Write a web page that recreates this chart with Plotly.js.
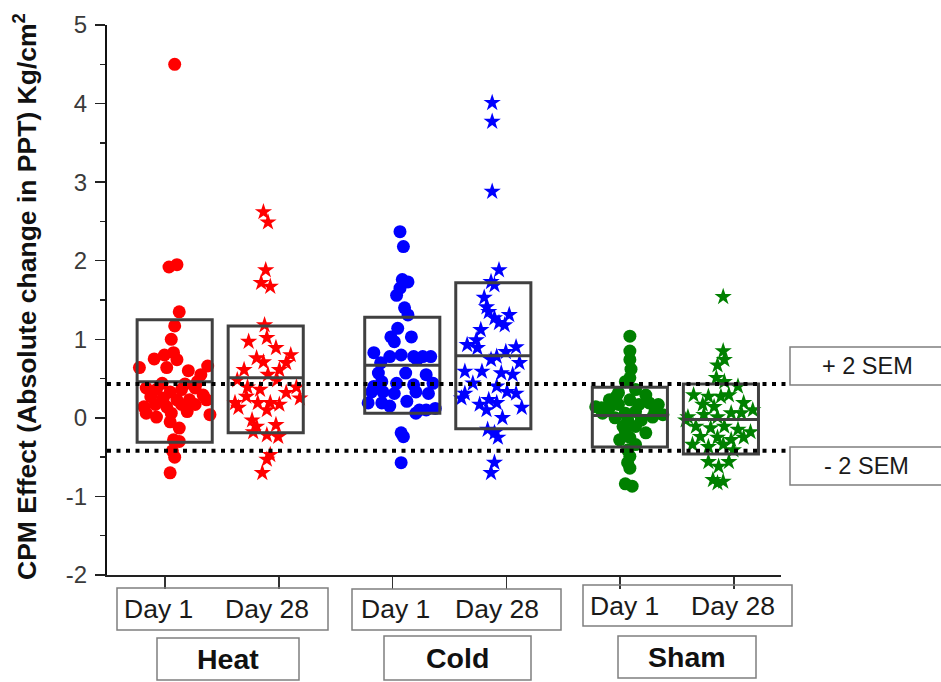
<!DOCTYPE html>
<html><head><meta charset="utf-8">
<script src="https://cdn.plot.ly/plotly-3.0.1.min.js"></script>
<style>html,body{margin:0;padding:0;background:#fff}#chart{width:941px;height:682px}</style>
</head><body><div id="chart"></div>
<script>
// ---------------- DATA ----------------
const groups = ['Heat', 'Cold', 'Sham'];
const days = ['Day 1', 'Day 28'];
const groupColors = ['#ff0000', '#0000ff', '#008000'];
const daySymbols = ['circle', 'star'];

// y-axis ticks
const yTickVals = [-2, -1, 0, 1, 2, 3, 4, 5];
const yTickText = ['-2', '-1', '0', '1', '2', '3', '4', '5'];

// box values (top, middle line, bottom) per column: Heat D1, Heat D28, Cold D1, Cold D28, Sham D1, Sham D28
const boxTop    = [1.25, 1.17, 1.28, 1.72, 0.39, 0.43];
const boxMid    = [0.46, 0.51, 0.67, 0.79, 0.03, -0.02];
const boxBottom = [-0.31, -0.19, 0.06, -0.14, -0.37, -0.46];

const semUpper = 0.43;
const semLower = -0.42;

// individual CPM effects (y) with horizontal jitter (category units)
const heatDay1Y = [4.50,1.92,1.95,1.35,1.17,1.00,0.80,0.83,0.75,0.74,0.64,0.64,0.60,0.66,0.55,0.38,0.36,0.33,0.36,0.38,0.29,0.27,0.25,0.23,0.23,0.14,0.17,0.14,0.17,0.17,0.23,0.06,0.01,0.06,0.04,0.08,-0.05,-0.13,-0.28,-0.30,-0.42,-0.50,-0.70,0.44,0.43,0.46];
const heatDay1J = [0,-0.05,0.02,0.04,0,-0.03,-0.09,-0.01,-0.18,0.02,-0.07,-0.31,0.12,0.29,0.23,-0.25,-0.16,-0.04,0.06,0.18,0.25,-0.21,-0.10,0.02,0.13,-0.27,-0.17,-0.07,0.06,0.18,0.28,-0.25,-0.16,-0.03,0.31,0.11,-0.04,0.04,-0.01,0.04,-0.02,0,-0.04,-0.11,0.09,0.20];

const heatDay28Y = [2.62,2.49,1.88,1.72,1.67,1.18,0.97,1.02,0.89,0.80,0.76,0.71,0.70,0.61,0.61,0.55,0.48,0.48,0.39,0.39,0.36,0.32,0.27,0.25,0.19,0.19,0.19,0.17,0.13,0.10,-0.03,-0.09,-0.11,-0.18,-0.22,-0.24,-0.47,-0.53,-0.70];
const heatDay28J = [-0.02,0.02,0,-0.04,0.04,-0.01,-0.15,0.01,0.09,0.22,-0.08,-0.02,0.18,-0.19,0.12,0.02,-0.25,0.10,0.27,-0.16,-0.05,0.18,-0.17,0.30,-0.27,-0.07,0.04,0.12,-0.24,0.01,-0.12,0.09,-0.08,-0.11,0.01,0.11,0.04,0.01,-0.03];

const coldDay1Y = [2.37,2.18,1.76,1.73,1.65,1.56,1.40,1.31,1.14,1.03,1.03,0.97,0.83,0.78,0.80,0.78,0.78,0.78,0.70,0.74,0.57,0.57,0.55,0.46,0.44,0.40,0.42,0.44,0.33,0.31,0.33,0.31,0.19,0.19,0.15,0.21,0.10,0.12,0.10,-0.19,-0.24,-0.57,0.06,0.33];
const coldDay1J = [-0.02,0.01,0,0.05,-0.02,-0.05,0.02,0.05,-0.04,-0.10,0.08,-0.07,-0.25,-0.11,-0.01,0.10,0.18,0.25,-0.19,0.13,-0.21,0.03,0.21,-0.18,-0.05,-0.25,0.10,0.27,-0.17,-0.07,0.12,0.23,-0.30,-0.18,-0.11,0.04,0.15,0.29,0.21,-0.01,0.01,-0.01,0.12,-0.27];

const coldDay28Y = [4.01,3.77,2.88,1.88,1.73,1.69,1.53,1.41,1.35,1.31,1.27,1.21,1.18,1.12,0.99,0.93,0.89,0.90,0.84,0.78,0.70,0.74,0.59,0.59,0.57,0.55,0.44,0.40,0.31,0.33,0.31,0.25,0.23,0.17,0.19,0.13,0.10,0.00,-0.15,-0.19,-0.25,-0.57,-0.70];
const coldDay28J = [-0.01,-0.01,-0.01,0.05,-0.02,0.01,-0.08,-0.06,-0.04,0.14,0.01,0.05,0.10,-0.11,-0.15,-0.23,-0.14,0.20,0.11,0.03,0.23,-0.02,-0.25,-0.10,0.07,0.17,-0.18,0.03,-0.25,0.12,0.20,-0.28,-0.04,-0.12,0.03,0.25,-0.06,0.08,-0.05,0.01,0.04,0.01,-0.02];

const shamDay1Y = [1.04,0.85,0.74,0.62,0.51,0.46,0.36,0.32,0.29,0.23,0.23,0.14,0.13,0.17,0.17,0.19,0.17,0.06,0.06,0.08,0.04,0.00,-0.03,-0.03,0.01,-0.11,-0.11,-0.17,-0.19,-0.25,-0.28,-0.34,-0.41,-0.49,-0.57,-0.64,-0.84,-0.87,0.13,0.08,0.27];
const shamDay1J = [0,0,0,0.01,0,-0.04,0.05,-0.10,0.14,-0.18,0,-0.30,-0.18,-0.10,0.08,0.17,0.25,-0.24,-0.04,0.05,0.29,-0.13,-0.02,0.10,0.20,-0.06,0.05,-0.04,0.14,0,-0.09,0.05,-0.02,0,-0.02,0,-0.04,0.02,-0.25,0.22,-0.12];

const shamDay28Y = [1.54,0.85,0.74,0.67,0.51,0.46,0.40,0.29,0.27,0.27,0.29,0.17,0.14,0.19,0.10,0.01,0.04,0.01,0.06,0.06,-0.11,-0.13,-0.11,-0.15,-0.18,-0.24,-0.25,-0.28,-0.25,-0.34,-0.37,-0.34,-0.41,-0.56,-0.56,-0.62,-0.79,-0.81,-0.83,-0.03];
const shamDay28J = [0.02,0.02,0.03,-0.03,-0.04,0.03,0.15,-0.24,-0.11,0,0.07,-0.16,-0.06,0.20,0.28,-0.29,-0.15,-0.03,0.09,0.18,-0.22,-0.09,0.03,0.15,0.26,-0.18,-0.03,0.09,0.20,-0.25,-0.11,0.02,0.11,-0.11,0.07,-0.02,-0.07,0.02,-0.03,-0.31];

const seriesY = [heatDay1Y, heatDay28Y, coldDay1Y, coldDay28Y, shamDay1Y, shamDay28Y];
const seriesJ = [heatDay1J, heatDay28J, coldDay1J, coldDay28J, shamDay1J, shamDay28J];

// ---------------- LAYOUT ----------------
const W = 941, H = 682;
const M = {l: 107, r: 160, t: 25, b: 107};
const PW = W - M.l - M.r, PH = H - M.t - M.b;
const px2x = p => (p - M.l) / PW;
const px2y = p => (H - M.b - p) / PH;
const FONT = 'Liberation Sans, Arial, Helvetica, sans-serif';

const boxHalf = 0.33;
const colCenter = i => 1.485 + 2 * Math.floor(i / 2) + (i % 2 === 0 ? -0.40 : 0.40);

const traces = [];
const shapes = [];
for (let i = 0; i < 6; i++) {
  const g = Math.floor(i / 2), d = i % 2;
  const c = colCenter(i);
  traces.push({
    type: 'scatter', mode: 'markers',
    name: groups[g] + ' ' + days[d],
    x: seriesJ[i].map(j => c + j),
    y: seriesY[i],
    marker: {
      symbol: daySymbols[d],
      size: 13,
      color: groupColors[g],
      line: {width: 0}
    },
    cliponaxis: false,
    hoverinfo: 'y'
  });
  shapes.push({type: 'rect', xref: 'x', yref: 'y', x0: c - boxHalf, x1: c + boxHalf,
    y0: boxBottom[i], y1: boxTop[i], line: {color: '#404040', width: 3}, layer: 'above'});
  shapes.push({type: 'line', xref: 'x', yref: 'y', x0: c - boxHalf, x1: c + boxHalf,
    y0: boxMid[i], y1: boxMid[i], line: {color: '#404040', width: 3}, layer: 'above'});
}

[semUpper, semLower].forEach(v => shapes.push({
  type: 'line', xref: 'paper', yref: 'y', x0: 0, x1: px2x(787), y0: v, y1: v,
  line: {color: '#000', width: 4, dash: '4px,5.5px'}, layer: 'above'
}));

// label boxes (pixel geometry of the decorations)
const frame = (x0, x1, y0, y1) => ({type: 'rect', xref: 'paper', yref: 'paper',
  x0: px2x(x0), x1: px2x(x1), y0: px2y(y1), y1: px2y(y0),
  line: {color: '#7f7f7f', width: 1.5}, fillcolor: 'rgba(0,0,0,0)', layer: 'above'});
const dayFrames = [[117, 328, 588, 630], [352, 561, 589, 630], [583, 792, 585, 626]];
const groupFrames = [[157, 299, 638, 680], [384, 531, 636, 680], [618, 756, 636, 678]];
const semFrames = [[790, 950, 347, 385], [790, 950, 447, 485]];
dayFrames.concat(groupFrames, semFrames).forEach(f => shapes.push(frame(...f)));

const annotations = [];
const dayTextX = [[158, 267], [395, 497], [624, 733]];
const dayTextY = [609, 609, 605.5];
const groupTextX = [228, 457.5, 687];
const groupTextY = [659, 658, 657];
for (let g = 0; g < 3; g++) {
  for (let d = 0; d < 2; d++) {
    annotations.push({xref: 'paper', yref: 'paper', x: px2x(dayTextX[g][d]), y: px2y(dayTextY[g]),
      xanchor: 'center', yanchor: 'middle', showarrow: false, text: days[d],
      font: {family: FONT, size: 26.5, color: '#1a1a1a'}});
  }
  annotations.push({xref: 'paper', yref: 'paper', x: px2x(groupTextX[g]), y: px2y(groupTextY[g]),
    xanchor: 'center', yanchor: 'middle', showarrow: false, text: groups[g],
    font: {family: FONT, size: 28.5, color: '#111', weight: 'bold'}});
}
annotations.push({xref: 'paper', yref: 'paper', x: px2x(867), y: px2y(366), xanchor: 'center', yanchor: 'middle',
  showarrow: false, text: '+ 2 SEM', font: {family: FONT, size: 23.5, color: '#1a1a1a'}});
annotations.push({xref: 'paper', yref: 'paper', x: px2x(866), y: px2y(466), xanchor: 'center', yanchor: 'middle',
  showarrow: false, text: '- 2 SEM', font: {family: FONT, size: 23.5, color: '#1a1a1a'}});
annotations.push({xref: 'paper', yref: 'paper', x: px2x(25), y: px2y(297), xanchor: 'center', yanchor: 'middle',
  showarrow: false, textangle: -90, text: 'CPM Effect (Absolute change in PPT) Kg/cm<sup>2</sup>',
  font: {family: FONT, size: 26.5, color: '#111', weight: 'bold'}});

const layout = {
  width: W, height: H, margin: M,
  paper_bgcolor: '#fff', plot_bgcolor: '#fff',
  showlegend: false,
  font: {family: FONT},
  xaxis: {
    range: [0.4903, 6.413], showgrid: false, zeroline: false,
    showline: true, linecolor: '#222', linewidth: 2,
    tickmode: 'array', tickvals: [1, 2, 3, 4, 5, 6], showticklabels: false,
    ticks: 'outside', ticklen: 12, tickwidth: 1.5, tickcolor: '#333'
  },
  yaxis: {
    range: [-2, 5], showgrid: false, zeroline: false,
    showline: true, linecolor: '#111', linewidth: 2,
    tickmode: 'array', tickvals: yTickVals, ticktext: yTickText,
    ticks: 'outside', ticklen: 10, tickwidth: 1.5, tickcolor: '#222',
    ticklabelstandoff: 3,
    tickfont: {family: FONT, size: 24, color: '#3a3a3a'},
    minor: {dtick: 0.5, ticks: 'outside', ticklen: 5, tickwidth: 1.5, tickcolor: '#222'}
  },
  shapes: shapes,
  annotations: annotations
};

Plotly.newPlot('chart', traces, layout, {displayModeBar: false, staticPlot: true});
</script>
</body></html>
